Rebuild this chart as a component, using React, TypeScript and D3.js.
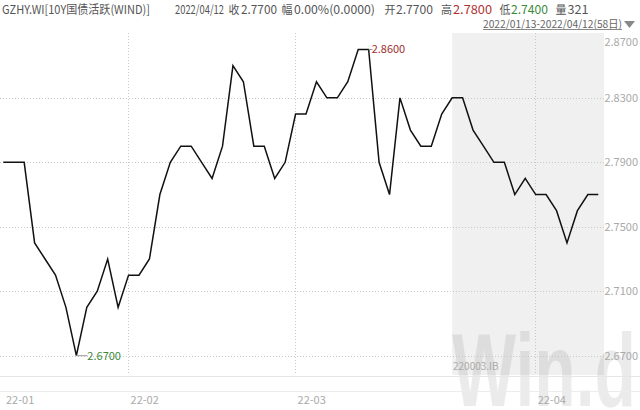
import React from "react";
import * as d3 from "d3";

// ---- data ----
const values: number[] = [
  2.79, 2.79, 2.79, 2.74, 2.73, 2.72, 2.70, 2.67, 2.70, 2.71,
  2.73, 2.70, 2.72, 2.72, 2.73, 2.77, 2.79, 2.80, 2.80, 2.79,
  2.78, 2.80, 2.85, 2.84, 2.80, 2.80, 2.78, 2.79, 2.82, 2.82,
  2.84, 2.83, 2.83, 2.84, 2.86, 2.86, 2.79, 2.77, 2.83, 2.81,
  2.80, 2.80, 2.82, 2.83, 2.83, 2.81, 2.80, 2.79, 2.79, 2.77,
  2.78, 2.77, 2.77, 2.76, 2.74, 2.76, 2.77, 2.77,
];
const monthLabels: string[] = ["22-01", "22-02", "22-03", "22-04"];
const monthStartIndex: number[] = [0, 12, 28, 51];
const yTicks: number[] = [2.87, 2.83, 2.79, 2.75, 2.71, 2.67];
const shadeStartIndex = 43;

const headerSegments: { text: string; color: string; x: number; w?: number; cjk?: boolean }[] = [
  { text: "GZHY.WI[10Y国债活跃(WIND)]", color: "#555", x: 2, w: 148 },
  { text: "2022/04/12", color: "#555", x: 175, w: 49 },
  { text: "收", color: "#555", x: 228.5, cjk: true },
  { text: "2.7700", color: "#555", x: 241, w: 36 },
  { text: "幅", color: "#555", x: 281.5, cjk: true },
  { text: "0.00%(0.0000)", color: "#555", x: 294, w: 81 },
  { text: "开", color: "#555", x: 384.5, cjk: true },
  { text: "2.7700", color: "#555", x: 396, w: 37 },
  { text: "高", color: "#555", x: 441, cjk: true },
  { text: "2.7800", color: "#b03030", x: 453, w: 39 },
  { text: "低", color: "#555", x: 499.5, cjk: true },
  { text: "2.7400", color: "#3a8a3a", x: 511, w: 37 },
  { text: "量", color: "#555", x: 555.5, cjk: true },
  { text: "321", color: "#555", x: 567.5, w: 21 },
];
const rangeLabel = "2022/01/13-2022/04/12(58日)";
const codeLabel = "220003.IB";

export default function App() {
  const W = 640, H = 410;
  const x = d3.scaleLinear().domain([0, values.length - 1]).range([3.3, 598.3]);
  const y = d3.scaleLinear().domain([2.67, 2.87]).range([355.7, 33.4]);
  const plotTop = 33;
  const plotBottom = 375;
  const plotRight = 604;

  const line = d3.line<number>().x((_, i) => x(i)).y((d) => y(d));

  const maxVal = d3.max(values)!;
  const minVal = d3.min(values)!;
  const maxIdxLast = values.lastIndexOf(maxVal);
  const minIdx = values.indexOf(minVal);

  const font = "'Noto Sans CJK SC', 'Noto Sans', sans-serif";
  const shadeX = x(shadeStartIndex);

  return (
    <svg
      width={W}
      height={H}
      style={{ position: "absolute", left: 0, top: 0, background: "#fff" }}
      fontFamily={font}
    >
      {/* shaded region */}
      <rect x={shadeX} y={plotTop} width={plotRight - shadeX} height={plotBottom - plotTop} fill="#f0f0f0" />
      {/* watermark */}
      <text
        x={452}
        y={406}
        fontFamily="'Liberation Sans', Arial, sans-serif"
        fontWeight="bold"
        fontSize={104}
        fill="#000"
        fillOpacity={0.08}
        textLength={184}
        lengthAdjust="spacingAndGlyphs"
      >
        Win.d
      </text>
      {/* horizontal gridlines */}
      {yTicks.slice(1).map((t) => (
        <line
          key={"h" + t}
          x1={0}
          x2={plotRight}
          y1={Math.round(y(t)) + 0.5}
          y2={Math.round(y(t)) + 0.5}
          stroke="#c8c8c8"
          strokeWidth={1}
          strokeDasharray="1,2"
        />
      ))}
      {/* vertical month gridlines */}
      {monthStartIndex.slice(1).map((i) => (
        <line
          key={"v" + i}
          x1={Math.round(x(i)) - 0.5}
          x2={Math.round(x(i)) - 0.5}
          y1={plotTop}
          y2={plotBottom - 2}
          stroke="#c8c8c8"
          strokeWidth={1}
          strokeDasharray="1,2"
        />
      ))}
      {/* bottom lines */}
      <line x1={0} x2={W} y1={376.5} y2={376.5} stroke="#e6e6e6" />
      <line x1={0} x2={W} y1={391.5} y2={391.5} stroke="#ececec" />
      {/* y labels */}
      {yTicks.map((t, i) => (
        <text
          key={"yl" + t}
          x={638}
          y={i === 0 ? 42 : y(t)}
          dy="0.35em"
          textAnchor="end"
          fontSize={11}
          fill="#aaa"
        >
          {t.toFixed(4)}
        </text>
      ))}
      {/* x labels */}
      {monthStartIndex.map((i, k) => (
        <text
          key={"xl" + i}
          x={i === 0 ? 6 : x(i) + 2}
          y={400}
          dy="0.35em"
          fontSize={11}
          fill="#aaa"
        >
          {monthLabels[k]}
        </text>
      ))}
      {/* code label */}
      <text x={453} y={366} dy="0.35em" fontSize={10} fill="#aaa">
        {codeLabel}
      </text>
      {/* line */}
      <path d={line(values) ?? ""} fill="none" stroke="#111" strokeWidth={1.5} strokeLinejoin="miter" />
      {/* max annotation */}
      <line x1={x(maxIdxLast)} x2={x(maxIdxLast) + 4} y1={y(maxVal)} y2={y(maxVal)} stroke="#999" />
      <text x={x(maxIdxLast) + 3} y={y(maxVal)} dy="0.35em" fontSize={11} fill="#a03030">
        {maxVal.toFixed(4)}
      </text>
      {/* min annotation */}
      <line x1={x(minIdx)} x2={x(minIdx) + 11} y1={y(minVal)} y2={y(minVal)} stroke="#999" />
      <text x={x(minIdx) + 11} y={y(minVal)} dy="0.35em" fontSize={11} fill="#3a8a3a">
        {minVal.toFixed(4)}
      </text>
      {/* header */}
      {headerSegments.map((s, i) => (
        <text
          key={"hd" + i}
          x={s.x}
          y={13.5}
          fontSize={s.cjk ? 11 : 12}
          fill={s.color}
          textLength={s.w}
          lengthAdjust={s.w ? "spacingAndGlyphs" : undefined}
        >
          {s.text}
        </text>
      ))}
      {/* range label */}
      <text x={483} y={27.5} fontSize={11} fill="#666" textLength={139} lengthAdjust="spacingAndGlyphs">
        {rangeLabel}
      </text>
      <line x1={483} x2={622} y1={29.5} y2={29.5} stroke="#888" />
      <path d="M624,21 L635,21 L629.5,28 Z" fill="#888" />
    </svg>
  );
}
